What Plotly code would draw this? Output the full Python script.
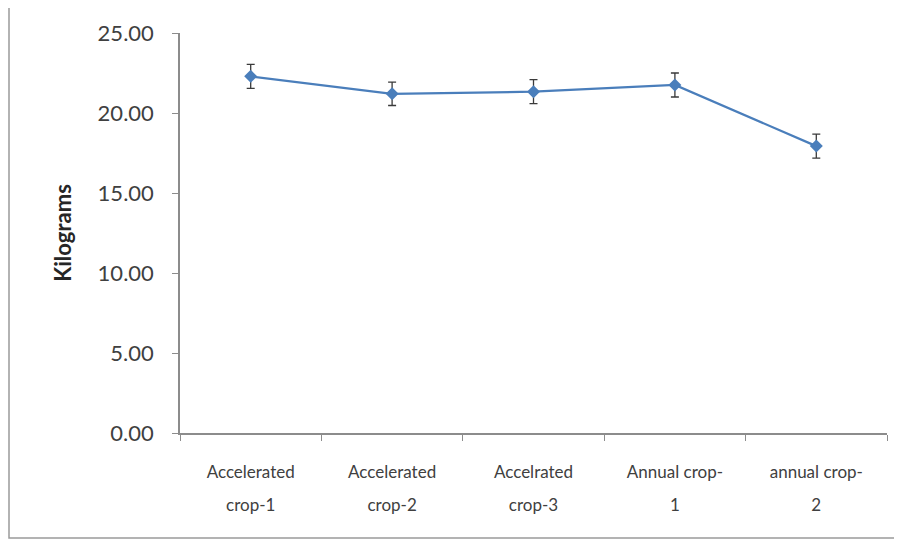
import plotly.graph_objects as go

categories = ["Accelerated crop-1", "Accelerated crop-2", "Accelrated crop-3", "Annual crop-1", "annual crop-2"]
label_line1 = ["Accelerated", "Accelerated", "Accelrated", "Annual crop-", "annual crop-"]
label_line2 = ["crop-1", "crop-2", "crop-3", "1", "2"]
values = [22.29, 21.20, 21.33, 21.75, 17.93]
errors = [0.75, 0.73, 0.75, 0.75, 0.75]
y_ticks = [0, 5, 10, 15, 20, 25]

FONT = "Lato"
TXT = "#404040"
AX = "#8c8c8c"

# page has an 8px body margin; work in target-pixel coordinates and shift
OFF = 8
W, H = 902 - OFF, 544 - OFF
L, T = 180 - OFF, 33 - OFF
R = W - (887 - OFF)
B = H - (433 - OFF)
pw, ph = W - L - R, H - T - B
n = len(categories)

fig = go.Figure()
fig.add_trace(go.Scatter(
    x=categories, y=values,
    mode="lines+markers",
    line=dict(color="#4a7ebb", width=2.25),
    marker=dict(symbol="diamond", size=10, color="#4a7ebb"),
    error_y=dict(type="data", array=errors, visible=True, color="#3a3a3a", thickness=1.3, width=4),
    showlegend=False,
))
# invisible trace for the second-line label axis
fig.add_trace(go.Scatter(x=categories, y=values, xaxis="x2", mode="markers",
                         marker=dict(opacity=0), showlegend=False, hoverinfo="skip"))

fig.update_layout(
    width=W, height=H,
    margin=dict(l=L, r=R, t=T, b=B),
    paper_bgcolor="white", plot_bgcolor="white",
    font=dict(family=FONT, size=17, color=TXT),
    xaxis=dict(
        type="category", categoryorder="array", categoryarray=categories,
        range=[-0.5, n - 0.5],
        tickvals=categories, ticktext=label_line1,
        tickson="boundaries", ticks="outside", ticklen=6, tickcolor=AX,
        showline=True, linecolor=AX, linewidth=1.5,
        showgrid=False, zeroline=False,
        tickfont=dict(family=FONT, size=17, color=TXT),
        ticklabelstandoff=23,
    ),
    xaxis2=dict(
        type="category", categoryorder="array", categoryarray=categories,
        range=[-0.5, n - 0.5],
        matches="x", overlaying="x", anchor="y", side="bottom",
        tickvals=categories, ticktext=label_line2,
        ticks="", showline=False, showgrid=False, zeroline=False,
        tickfont=dict(family=FONT, size=17, color=TXT),
        ticklabelstandoff=60,
    ),
    yaxis=dict(
        range=[0, 25], tickvals=y_ticks,
        tickformat=".2f",
        ticks="outside", ticklen=6, tickcolor=AX,
        showline=True, linecolor=AX, linewidth=1.5,
        showgrid=False, zeroline=False,
        tickfont=dict(family=FONT, size=22, color=TXT),
        ticklabelstandoff=14,
        title=dict(text="<b>Kilograms</b>", font=dict(family=FONT, size=22, color="#262626"), standoff=20),
    ),
    shapes=[dict(
        type="rect", xref="paper", yref="paper",
        x0=(9 - 180) / pw, x1=(900 - 180) / pw,
        y0=(433 - 538) / ph, y1=(433 - 4) / ph,
        line=dict(color="#9a9a9a", width=1.5), fillcolor="rgba(0,0,0,0)", layer="below",
    )],
)

fig.write_html("out.html")
